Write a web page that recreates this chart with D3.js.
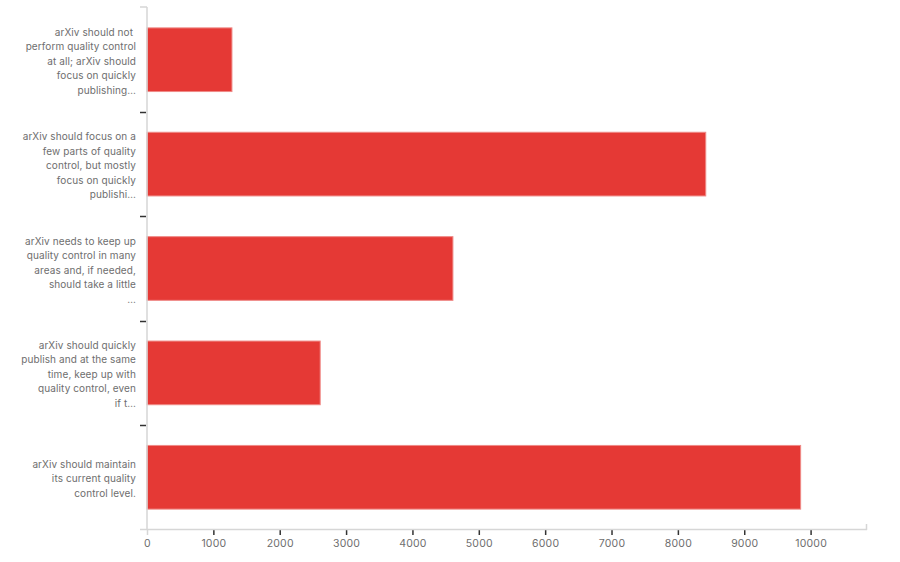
<!DOCTYPE html>
<html>
<head>
<meta charset="utf-8">
<script src="https://cdn.jsdelivr.net/npm/d3@7"></script>
<style>
  body { margin: 0; background: #fff; }
  svg { display: block; font-family: Inter, "Noto Sans", sans-serif; }
</style>
</head>
<body>
<svg id="chart" width="900" height="562"></svg>
<script>
// Survey answers (label lines as shown) and response counts
const categories = [
  ["arXiv should not\u00a0", "perform quality control", "at all; arXiv should", "focus on quickly", "publishing…"],
  ["arXiv should focus on a", "few parts of quality", "control, but mostly", "focus on quickly", "publishi…"],
  ["arXiv needs to keep up", "quality control in many", "areas and, if needed,", "should take a little", "…"],
  ["arXiv should quickly", "publish and at the same", "time, keep up with", "quality control, even", "if t…"],
  ["arXiv should maintain", "its current quality", "control level."]
];
const counts = [1280, 8420, 4610, 2610, 9850];
const xTicks = [0, 1000, 2000, 3000, 4000, 5000, 6000, 7000, 8000, 9000, 10000];
const xMax = 10850;

const svg = d3.select("#chart");
const plotLeft = 147, plotRight = 867, plotTop = 7, plotBottom = 530;
const axisGrey = "#d6d6d6", textGrey = "#6e6e6e";

const keys = categories.map((c, i) => i);
const x = d3.scaleLinear().domain([0, xMax]).range([plotLeft, plotRight]);
const y = d3.scaleBand().domain(keys).range([plotTop, plotBottom]).paddingInner(0.39).paddingOuter(0.2);

// Bars
svg.append("g").selectAll("rect")
  .data(counts)
  .join("rect")
  .attr("x", x(0))
  .attr("y", (d, i) => y(i))
  .attr("width", d => x(d) - x(0))
  .attr("height", y.bandwidth())
  .attr("fill", "#e53935")
  .attr("stroke", "#ef8a87")
  .attr("stroke-width", 1);

// Vertical axis line with its light outer tick at the top
svg.append("line")
  .attr("x1", plotLeft).attr("x2", plotLeft)
  .attr("y1", plotTop).attr("y2", 529)
  .attr("stroke", axisGrey).attr("stroke-width", 1.5);
svg.append("line")
  .attr("x1", plotLeft - 7).attr("x2", plotLeft)
  .attr("y1", plotTop).attr("y2", plotTop)
  .attr("stroke", axisGrey).attr("stroke-width", 1.5);

// Category separators on the left of the vertical axis
const step = y.step();
const seps = keys.slice(1).map(i => y(i) - step * y.paddingInner() / 2);
svg.append("g").selectAll("line")
  .data(seps)
  .join("line")
  .attr("x1", plotLeft - 7).attr("x2", plotLeft - 1)
  .attr("y1", d => Math.round(d) + 0.5).attr("y2", d => Math.round(d) + 0.5)
  .attr("stroke", "#333").attr("stroke-width", 1.5);

// Category labels
const lineH = 14.5;
const lab = svg.append("g").selectAll("text")
  .data(categories)
  .join("text")
  .attr("text-anchor", "end")
  .attr("fill", textGrey)
  .attr("font-size", 10)
  .attr("letter-spacing", 0.1);
lab.each(function(lines, i) {
  const cy = y(i) + y.bandwidth() / 2;
  const y0 = cy - (lines.length - 1) * lineH / 2 + 5;
  d3.select(this).selectAll("tspan")
    .data(lines)
    .join("tspan")
    .attr("x", 136)
    .attr("y", (d, j) => y0 + j * lineH)
    .text(d => d);
});

// Horizontal axis
const axisY = 529;
const xAxis = d3.axisBottom(x).tickValues(xTicks).tickFormat(d3.format("d"))
  .tickSize(6).tickSizeOuter(0).tickPadding(5);
const gx = svg.append("g").attr("transform", `translate(0,${axisY})`).call(xAxis);
gx.select(".domain").remove();
gx.append("line")
  .attr("x1", 140).attr("x2", plotRight)
  .attr("y1", 0.5).attr("y2", 0.5)
  .attr("stroke", axisGrey).attr("stroke-width", 1.5);
gx.append("line")
  .attr("x1", plotRight - 0.5).attr("x2", plotRight - 0.5)
  .attr("y1", -5).attr("y2", 1)
  .attr("stroke", axisGrey).attr("stroke-width", 1.5);
gx.selectAll(".tick line").attr("stroke", "#333").attr("stroke-width", 1.5)
  .attr("y1", 0).attr("y2", 6)
  .filter(d => d === 0).attr("stroke", axisGrey);
gx.selectAll(".tick text")
  .attr("fill", textGrey)
  .attr("font-size", 10.5)
  .attr("letter-spacing", 0.2)
  .attr("font-family", "Inter, 'Noto Sans', sans-serif");
</script>
</body>
</html>
